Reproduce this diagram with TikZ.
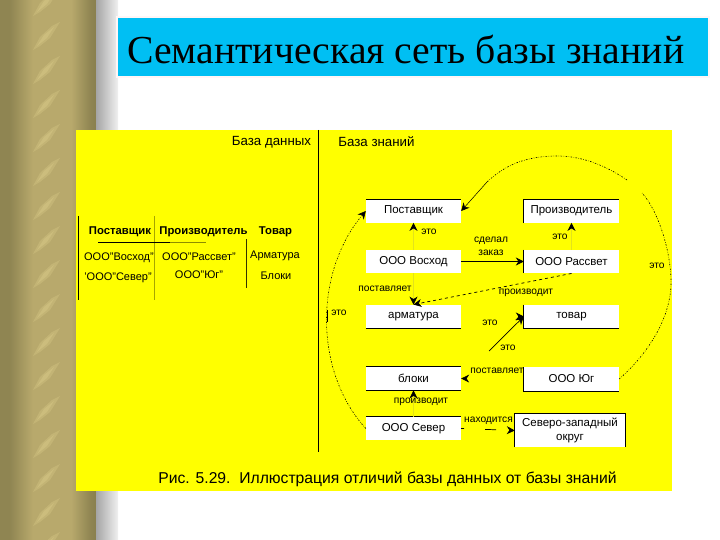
\documentclass[tikz,border=0pt]{standalone}
\usepackage{fontspec}
\setmainfont{Liberation Sans}
\newfontfamily\titlefont{Liberation Serif}
\usetikzlibrary{arrows.meta}
\definecolor{pgold}{HTML}{DDD08C}
\definecolor{pdark}{HTML}{8F8552}
\definecolor{pdeep}{HTML}{786E42}
\definecolor{pmid}{HTML}{B8A96C}
\definecolor{ybg}{HTML}{FFFF00}
\definecolor{cy}{HTML}{00BFF3}
\pgfdeclarehorizontalshading{pillar}{100bp}{
 color(0bp)=(pgold); color(17bp)=(pgold); color(18bp)=(white!60!pgold); color(19bp)=(pgold); color(23bp)=(pdark);
 color(30bp)=(pdark); color(42bp)=(pmid); color(62bp)=(pmid); color(72bp)=(pdark); color(83bp)=(pdeep);
 color(84bp)=(pgold); color(85bp)=(white!60!pgold); color(86bp)=(pgold); color(100bp)=(pgold)}
\pgfdeclarehorizontalshading{fadeout}{100bp}{color(0bp)=(black!50); color(85bp)=(white); color(100bp)=(white)}
\tikzset{
 box/.style={fill=white,draw=none,minimum width=95pt,minimum height=23.5pt,inner sep=0pt,font=\fontsize{11.5}{13}\selectfont,align=center},
 lab/.style={font=\fontsize{10.2}{13}\selectfont,inner sep=0pt,align=center},
 hdr/.style={font=\fontsize{13.3}{15}\selectfont,inner sep=0pt},
 thd/.style={font=\bfseries\fontsize{11.3}{13}\selectfont,inner sep=0pt},
 tcell/.style={font=\fontsize{11}{13}\selectfont,inner sep=0pt},
 edge/.style={line width=0.8pt,black},
 arr/.style={-{Stealth[length=8pt,width=8pt,color=black]},line width=0.7pt},
 pale/.style={arr,draw=ybg!78!gray},
 tiponly/.style={arr,dash pattern=on 0pt off 200pt},
 dotarc/.style={line width=0.6pt,dash pattern=on 1.5pt off 1.5pt on 0.5pt off 1.5pt},
}
\begin{document}
\begin{tikzpicture}[x=1pt,y=-1pt]
\useasboundingbox (0,0) rectangle (720,540);
\fill[white] (0,0) rectangle (720,540);
\shade[shading=pillar] (0,0) rectangle (96,540);
\shade[shading=fadeout] (96,0) rectangle (118,540);
\foreach \yy in {0,34,...,544}{
 \fill[pgold,opacity=.3] (33,\yy+16) -- (40,\yy+3) -- (52,\yy-8) -- (60,\yy-12) -- (50,\yy+4) -- (40,\yy+12) -- cycle;
 \fill[pgold,opacity=.35] (37,\yy+12) -- (44,\yy+1) -- (54,\yy-7) -- (47,\yy+4) -- cycle;
}
\fill[pink!15!white] (116,16) rectangle (710,78);
\fill[cy] (118,18) rectangle (708,76);
\node[anchor=west,inner sep=0pt,font=\titlefont\fontsize{39.7}{44}\selectfont] (title) at (127,49) {Семантическая сеть базы знаний};
\fill[ybg] (76,130) rectangle (672,491);
% left part
\draw[line width=.8pt] (318,130) -- (318,452);
\node[hdr] (h1) at (271.5,142) {База данных};
\node[hdr] (h2) at (376.5,142) {База знаний};
\draw[line width=.9pt] (78,216) -- (78,300);
\draw[line width=.5pt,black!35!ybg] (154.5,216) -- (154.5,300);
\draw[line width=.7pt,black!80!ybg] (246.5,239) -- (246.5,288);
\draw[line width=.8pt] (98,242) -- (170,242);
\draw[line width=.6pt,black!45!ybg] (170,242) -- (206,242);
\node[thd] (t1) at (120,232) {Поставщик};
\node[thd] (t2) at (203.5,232) {Производитель};
\node[thd] (t3) at (275.5,232) {Товар};
\node[tcell] (c1) at (119,258) {ООО"Восход"};
\node[tcell] (c2) at (199,257) {ООО"Рассвет"};
\node[tcell] (c3) at (275,256) {Арматура};
\node[tcell] (c4) at (118,278) {'ООО"Север"};
\node[tcell] (c5) at (199,275) {ООО"Юг"};
\node[tcell] (c6) at (276,276) {Блоки};
% boxes
\node[box] (post) at (413.5,211) {Поставщик};
\node[box] (proizv) at (571.5,211) {Производитель};
\node[box] (vosh) at (413.5,261.5) {ООО Восход};
\node[box] (rass) at (571.5,261.5) {ООО Рассвет};
\node[box] (arm) at (413.5,316.5) {арматура};
\node[box] (tov) at (571.5,316.5) {товар};
\node[box] (blok) at (413.5,378.5) {блоки};
\node[box] (yug) at (571.5,379) {ООО Юг};
\node[box] (sev) at (413.5,428.5) {ООО Север};
\node[box,minimum width=110pt,minimum height=33pt,font=\fontsize{11.5}{14.5}\selectfont] (okrug) at (570,430.5) {Северо-западный\\округ};
% partial borders
\draw[edge] (post.north west) -- (post.north east);
\draw[edge] (proizv.south west) -- (proizv.north west) -- (proizv.north east);
\draw[edge] (rass.north west) -- (rass.south west);
\draw[edge] (arm.south west) -- (arm.south east);
\draw[edge] (tov.north west) -- (tov.south west) -- (tov.south east);
\draw[edge] (blok.north west) -- (blok.north east);
\draw[edge] (blok.south west) -- (blok.south east);
\draw[edge] (yug.north west) -- (yug.south west) -- (yug.south east);
\draw[edge] (sev.north west) -- (sev.north east);
\draw[edge] (okrug.south west) -- (okrug.north west) -- (okrug.north east) -- (okrug.south east);
% connectors
\draw[pale] (vosh.north) -- (post.south);
\draw[pale] (rass.north) -- (proizv.south);
\draw[arr] (vosh.east) -- (rass.west);
\draw[pale] (vosh.south) -- (arm.north);
\draw[arr,dashed] (rass.south) -- (arm.north);
\coordinate (diag) at (489,351);
\draw[arr] (diag) -- (tov.west);
\draw[tiponly] (arm.east) -- (tov.west);
\draw[pale] (sev.north) -- (blok.south);
\draw[tiponly] (yug.west) -- (blok.east);
\draw[arr,dash pattern=on 3pt off 21pt on 11pt off 13pt] (sev.east) -- (okrug.west);
\draw[dotarc,-{Stealth[length=8pt,width=8pt,color=black]}] (sev.west) .. controls (314,372) and (314,272) .. (post.west);
\draw[line width=.7pt] (327.5,310) -- (327.5,322);
\draw[dotarc] (yug.east) .. controls (650,352) and (672,315) .. (671,280) .. controls (670,245) and (656,208) .. (642,193);
\draw[dotarc] (627,180) .. controls (605,165) and (580,155) .. (553,156) .. controls (525,157) and (505,165) .. (487,182);
\coordinate (bend) at (487,182);
\draw[arr,line width=.5pt] (bend) -- (post.east);
% labels
\node[lab] (l1) at (429,232) {это};
\node[lab] (l2) at (560,237) {это};
\node[lab] (l3) at (491,246.5) {сделал\\заказ};
\node[lab] (l4) at (657,266) {это};
\node[lab] (l5) at (385,289) {поставляет};
\node[lab] (l6) at (526,293) {производит};
\node[lab] (l7) at (339,313) {это};
\node[lab] (l8) at (490,323) {это};
\node[lab] (l9) at (508,348) {это};
\node[lab] (l10) at (497,370.5) {поставляет};
\node[lab] (l11) at (421,402) {производит};
\node[lab] (l12) at (488.5,421) {находится};
\node[font=\fontsize{15.7}{18}\selectfont,inner sep=0pt] (cap) at (387.5,479) {Рис. 5.29.\ \ Иллюстрация отличий базы данных от базы знаний};
\end{tikzpicture}
\end{document}
